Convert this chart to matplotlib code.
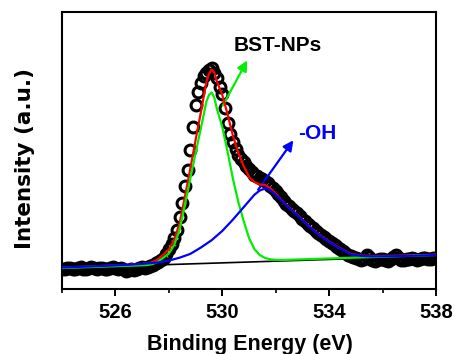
import matplotlib
matplotlib.use('Agg')
import matplotlib.pyplot as plt
import numpy as np

plt.rcParams['font.family'] = ['Liberation Sans', 'DejaVu Sans']
plt.rcParams['font.weight'] = 'bold'

# measured O 1s spectrum (arbitrary intensity units)
energy = np.round(np.arange(524.0, 538.05, 0.1), 1)
intensity = [20.5, 19.8, 20.9, 21.4, 20.2, 19.6, 20.8, 21.6, 20.4, 19.9,
             21.2, 21.8, 20.6, 20.0, 20.9, 21.5, 20.3, 19.7, 20.6, 21.7,
             21.0, 20.2, 20.8, 19.6, 18.4, 18.9, 20.1, 19.0, 20.4, 21.3,
             21.8, 21.2, 22.0, 22.6, 24.0, 26.0, 27.5, 29.5, 31.5, 35.0,
             40.0, 45.0, 51.0, 59.0, 72.0, 86.0, 103.0, 119.0, 139.0, 162.0,
             184.0, 197.0, 206.0, 213.0, 216.0, 219.0, 221.0, 216.0, 211.0, 202.0,
             195.0, 181.0, 166.0, 155.0, 147.0, 140.0, 134.0, 130.0, 127.0, 123.0,
             120.0, 117.0, 114.0, 113.0, 111.0, 110.0, 108.0, 106.0, 103.0, 101.0,
             98.0, 95.0, 92.0, 88.5, 85.5, 83.0, 80.5, 78.0, 76.0, 73.0,
             70.5, 68.0, 65.5, 63.0, 61.0, 58.5, 56.0, 54.0, 52.0, 50.0,
             48.0, 46.0, 44.0, 42.0, 40.0, 38.0, 36.0, 34.5, 33.0, 32.0,
             31.0, 30.5, 29.5, 30.5, 34.0, 32.0, 29.5, 28.5, 29.0, 30.0,
             30.5, 29.5, 28.5, 30.0, 32.0, 34.0, 31.5, 29.5, 29.0, 30.0,
             30.5, 31.0, 30.0, 29.5, 30.5, 31.5, 31.0, 30.0, 30.5, 31.5,
             31.0]

# background
bg_x = [524.0, 538.0]
bg_y = [21.0, 33.0]

# lattice oxygen component (BST-NPs)
green_x = [524.0, 527.2, 527.4, 527.6, 527.8, 528.0, 528.2, 528.4, 528.6, 528.8,
           529.0, 529.2, 529.4, 529.5, 529.6, 529.7, 529.8, 530.0, 530.2, 530.4,
           530.6, 530.8, 531.0, 531.2, 531.4, 531.6, 531.8, 532.0, 532.2, 538.0]
green_y = [21.0, 23.9, 25.0, 27.5, 31.5, 35.5, 44.0, 59.0, 84.0, 110.0,
           136.0, 161.0, 187.0, 194.0, 196.5, 191.5, 180.0, 162.0, 137.0, 110.0,
           87.0, 68.0, 51.0, 40.0, 34.0, 31.0, 29.7, 29.2, 29.0, 34.0]

# hydroxyl component (-OH)
blue_x = [524.0, 524.8, 525.6, 526.4, 527.0, 527.6, 528.0, 528.4, 528.8, 529.2,
          529.6, 530.0, 530.4, 530.8, 531.2, 531.4, 531.6, 531.8, 532.0, 532.4,
          532.8, 533.2, 533.6, 534.0, 534.4, 534.8, 535.2, 535.6, 536.4, 537.2,
          538.0]
blue_y = [21.5, 22.3, 23.2, 24.1, 25.1, 26.6, 28.4, 31.3, 35.1, 41.5,
          48.8, 58.1, 69.5, 81.8, 94.2, 98.5, 100.5, 98.8, 93.9, 83.2,
          74.0, 63.4, 54.5, 47.0, 40.5, 34.8, 33.1, 32.6, 32.8, 33.3,
          34.0]

# envelope
red_x = [524.0, 524.8, 525.6, 526.4, 527.0, 527.2, 527.4, 527.6, 527.8, 528.0,
         528.2, 528.4, 528.6, 528.8, 529.0, 529.2, 529.4, 529.5, 529.6, 529.7,
         529.8, 530.0, 530.2, 530.4, 530.6, 530.8, 531.0, 531.2, 531.4, 531.6,
         531.8, 532.0, 532.2, 532.4, 532.8, 533.2, 533.6, 534.0, 534.4, 534.8,
         535.2, 535.6, 536.4, 537.2, 538.0]
red_y = [21.5, 22.3, 23.2, 24.1, 25.1, 25.7, 27.1, 30.0, 34.7, 39.5,
         49.2, 65.5, 92.2, 120.0, 149.0, 177.0, 206.5, 215.0, 219.5, 216.5,
         207.5, 194.0, 174.5, 153.0, 136.0, 123.0, 112.0, 107.0, 104.5, 104.0,
         100.7, 95.2, 89.0, 83.6, 74.4, 63.8, 54.9, 47.4, 40.9, 35.2,
         33.5, 33.0, 33.2, 33.7, 34.4]

# label arrows (start, end) in data units
bst_arrow = ((529.97, 181.0), (530.98, 231.0))
oh_arrow = ((531.28, 97.0), (532.72, 151.0))

fig = plt.figure(figsize=(4.54, 3.54), dpi=100)
ax = fig.add_axes([0.1366, 0.1836, 0.8238, 0.7825])

ax.plot(energy, intensity, 'o', mfc='none', mec='black', ms=7.8, mew=2.2, zorder=2)
ax.plot(bg_x, bg_y, color='black', lw=1.2, zorder=3)
ax.plot(red_x, red_y, color='#ff0000', lw=1.6, zorder=4)
ax.plot(green_x, green_y, color='#00ee00', lw=1.6, zorder=5)
ax.plot(blue_x, blue_y, color='#0000ff', lw=1.6, zorder=6)

ax.annotate('', xy=bst_arrow[1], xytext=bst_arrow[0],
            arrowprops=dict(arrowstyle='-|>', color='#00ee00', lw=1.6, mutation_scale=15))
ax.annotate('', xy=oh_arrow[1], xytext=oh_arrow[0],
            arrowprops=dict(arrowstyle='-|>', color='#0000ff', lw=1.6, mutation_scale=15))
ax.text(532.08, 244, 'BST-NPs', color='black', fontsize=15, fontweight='bold',
        ha='center', va='center')
ax.text(532.82, 156, '-OH', color='#0000ff', fontsize=15, fontweight='bold',
        ha='left', va='center')

ax.set_xlim(524, 538)
ax.set_ylim(0, 277)
ax.set_xticks([526, 530, 534, 538])
ax.set_xticks([524, 528, 532, 536], minor=True)
ax.set_yticks([])
ax.tick_params(axis='x', which='major', direction='out', length=5, width=1.4,
               labelsize=14.5, pad=5)
ax.tick_params(axis='x', which='minor', direction='out', length=3, width=1.2)
for lbl in ax.get_xticklabels():
    lbl.set_fontweight('bold')
for sp in ax.spines.values():
    sp.set_linewidth(1.5)

ax.set_xlabel('Binding Energy (eV)', fontsize=15.5, fontweight='bold')
ax.set_ylabel('Intensity (a.u.)', fontsize=15.5, fontweight='bold',
              family=['DejaVu Sans'])
ax.xaxis.set_label_coords(0.503, -0.163)
ax.yaxis.set_label_coords(-0.072, 0.47)

plt.savefig('out.png', dpi=100)
plt.close()
